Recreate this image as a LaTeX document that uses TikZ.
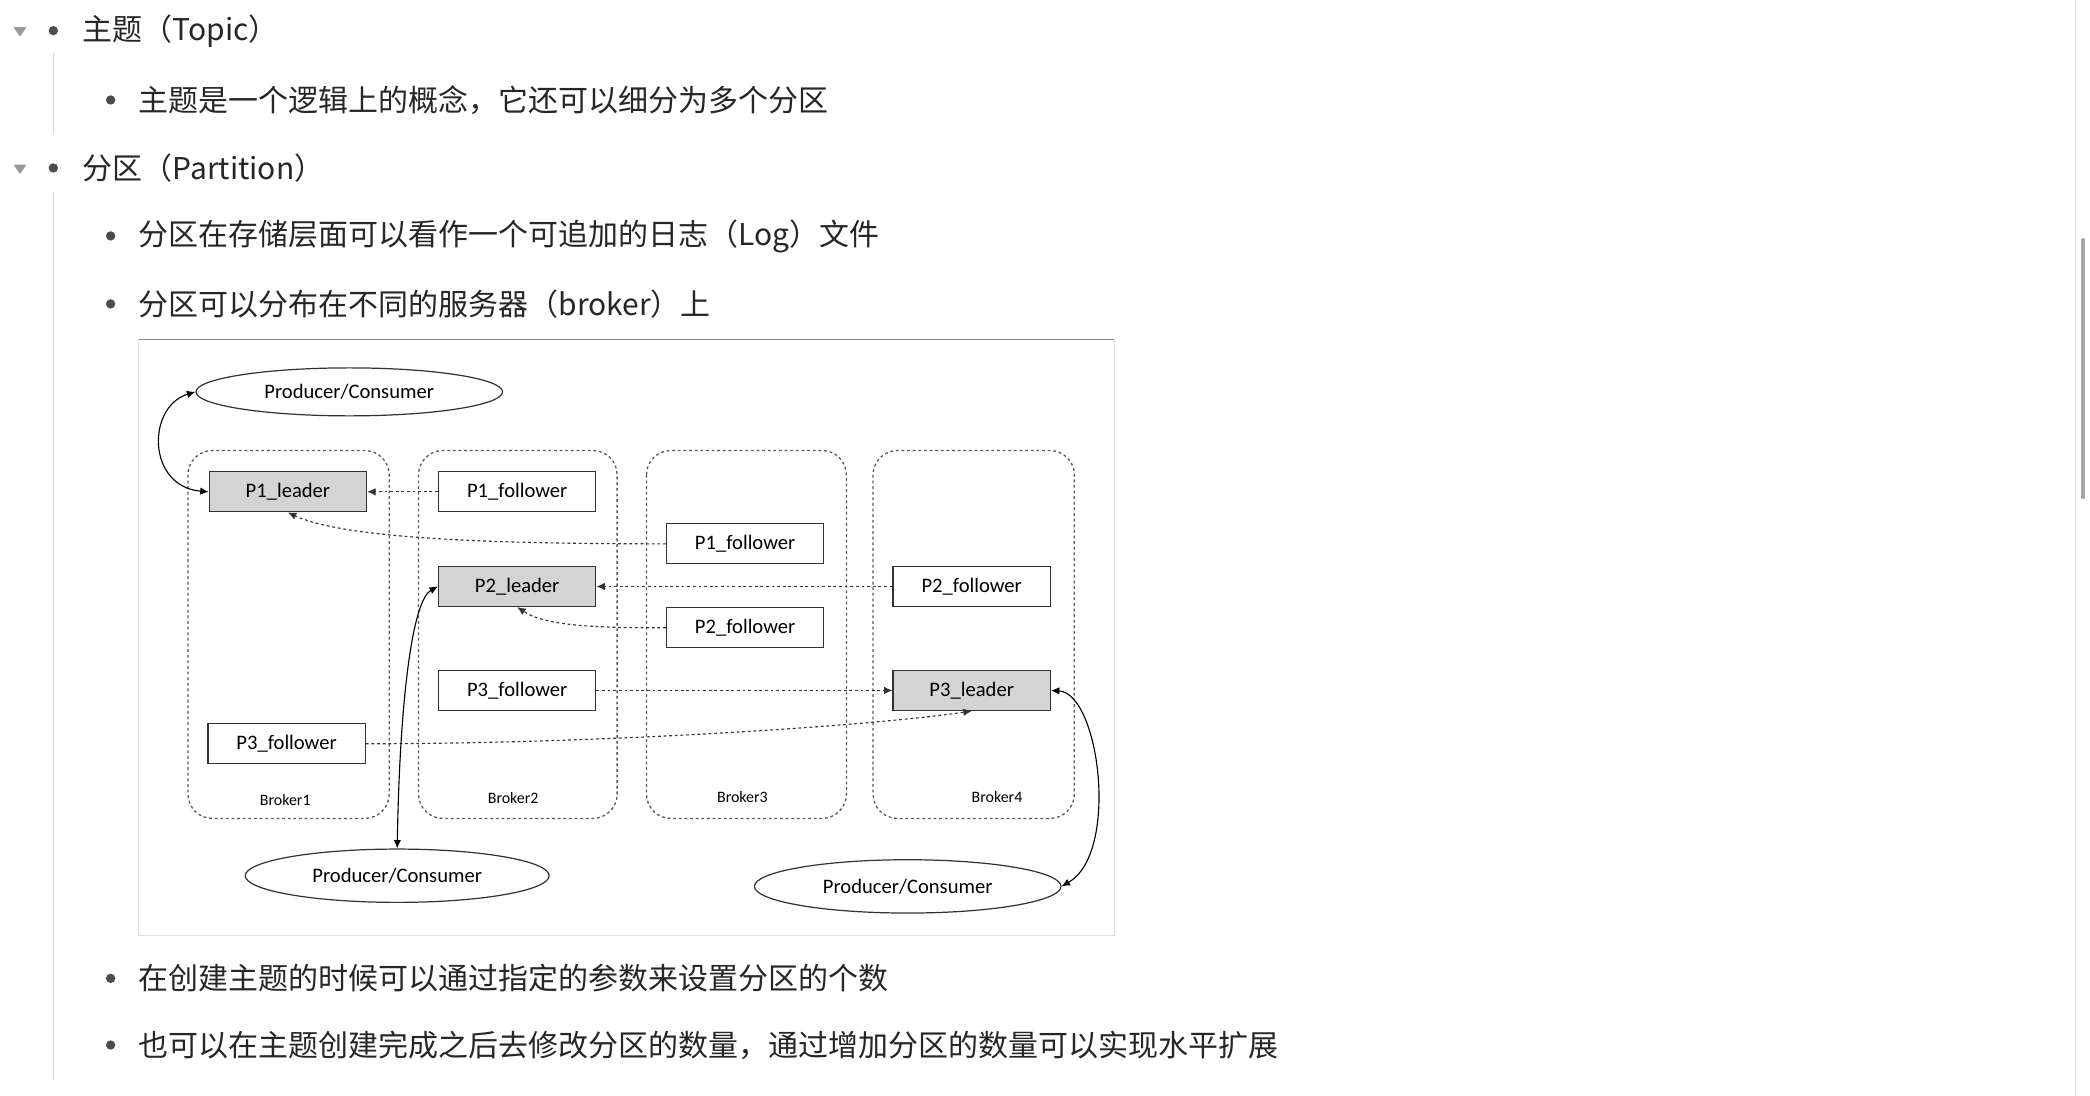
\documentclass[tikz,border=0pt]{standalone}
\usepackage{fontspec}
\setmainfont{Noto Sans CJK SC}
\newfontfamily\dgm{Carlito}
\usetikzlibrary{arrows.meta,shapes.geometric}
\begin{document}
\begin{tikzpicture}[x=0.05cm,y=-0.05cm,
  txt/.style={anchor=west,font=\fontsize{32}{36}\selectfont,text=black!85,inner sep=0},
  bul/.style={fill=black!70,circle,inner sep=0,minimum size=10},
  tri/.style={fill=black!40,isosceles triangle,shape border rotate=-90,inner sep=0,minimum width=14,minimum height=9,isosceles triangle apex angle=70},
  guide/.style={draw=black!15,line width=1},
  broker/.style={draw=black!65,dashed,rounded corners=26,line width=1.4},
  pbox/.style={draw=black!80,line width=1.3,minimum width=118*0.05cm,minimum height=30*0.05cm,font=\dgm\fontsize{22}{24}\selectfont,inner sep=0},
  lead/.style={pbox,fill=black!17},
  pc/.style={ellipse,draw=black!80,line width=1.3,font=\dgm\fontsize{22}{24}\selectfont,inner sep=0},
  blab/.style={font=\dgm\fontsize{17}{19}\selectfont},
  dar/.style={dashed,draw=black!80,line width=1.2,-{Latex[length=9,width=8]}},
  sar/.style={draw=black,line width=1.2,{Latex[length=9,width=8]}-{Latex[length=9,width=8]}}]
\useasboundingbox (0,0) rectangle (1568,822);
\fill[white] (0,0) rectangle (1568,822);
\draw[black!12,line width=1] (1557,0) -- (1557,822);
\draw[black!35,line width=4,line cap=round] (1563,180) -- (1563,373);
\node[tri] (t1) at (15,23) {};
\node[tri] (t2) at (15,126) {};
\node[bul] (b1) at (40,23) {};
\node[bul] (b2) at (40,126) {};
\draw[guide] (40,40) -- (40,100);
\draw[guide] (40,145) -- (40,810);
\node[txt] (l1) at (62,23) {主题（Topic）};
\node[bul] (s1) at (83,75) {};
\node[txt] (l2) at (104,75) {主题是一个逻辑上的概念，它还可以细分为多个分区};
\node[txt] (l3) at (62,126) {分区（Partition）};
\node[bul] (s2) at (83,177) {};
\node[txt] (l4) at (104,177) {分区在存储层面可以看作一个可追加的日志（Log）文件};
\node[bul] (s3) at (83,228) {};
\node[txt] (l5) at (104,228) {分区可以分布在不同的服务器（broker）上};
\node[bul] (s4) at (83,734) {};
\node[txt] (l6) at (104,734) {在创建主题的时候可以通过指定的参数来设置分区的个数};
\node[bul] (s5) at (83,784) {};
\node[txt] (l7) at (104,784) {也可以在主题创建完成之后去修改分区的数量，通过增加分区的数量可以实现水平扩展};
\draw[black!12,line width=1] (104,255) rectangle (836,702);
\draw[black!45,line width=1] (104,255) -- (836,255);
\draw[broker] (141,338) rectangle (292,614);
\draw[broker] (314,338) rectangle (463,614);
\draw[broker] (485,338) rectangle (635,614);
\draw[broker] (655,338) rectangle (806,614);
\node[blab] (bk1) at (214,600) {Broker1};
\node[blab] (bk2) at (385,599) {Broker2};
\node[blab] (bk3) at (557,598) {Broker3};
\node[blab] (bk4) at (748,598) {Broker4};
\node[lead] (p1l) at (216,369) {P1\_leader};
\node[pbox,fill=white] (p1f2) at (388,369) {P1\_follower};
\node[pbox,fill=white] (p1f3) at (559,408) {P1\_follower};
\node[lead] (p2l) at (388,440) {P2\_leader};
\node[pbox,fill=white] (p2f4) at (729,440) {P2\_follower};
\node[pbox,fill=white] (p2f3) at (559,471) {P2\_follower};
\node[pbox,fill=white] (p3f2) at (388,518) {P3\_follower};
\node[lead] (p3l) at (729,518) {P3\_leader};
\node[pbox,fill=white] (p3f1) at (215,558) {P3\_follower};
\node[pc,minimum width=230*0.05cm,minimum height=36*0.05cm] (pc1) at (262,294) {Producer/Consumer};
\node[pc,minimum width=228*0.05cm,minimum height=40*0.05cm] (pc2) at (298,657) {Producer/Consumer};
\node[pc,minimum width=230*0.05cm,minimum height=40*0.05cm] (pc3) at (681,665) {Producer/Consumer};
\draw[dar] (p1f2.west) -- (p1l.east);
\draw[dar] (p1f3.west) .. controls (380,408) and (260,405) .. (p1l.south);
\draw[dar] (p2f4.west) -- (p2l.east);
\draw[dar] (p2f3.west) .. controls (450,471) and (410,470) .. (p2l.south);
\draw[dar] (p3f2.east) -- (p3l.west);
\draw[dar] (p3f1.east) .. controls (450,558) and (650,545) .. (p3l.south);
\draw[sar] (pc1.west) .. controls (110,305) and (110,365) .. (p1l.west);
\draw[sar] (pc2.north) .. controls (300,520) and (310,450) .. (p2l.west);
\draw[sar] (pc3.east) .. controls (840,640) and (825,520) .. (p3l.east);
\end{tikzpicture}
\end{document}
